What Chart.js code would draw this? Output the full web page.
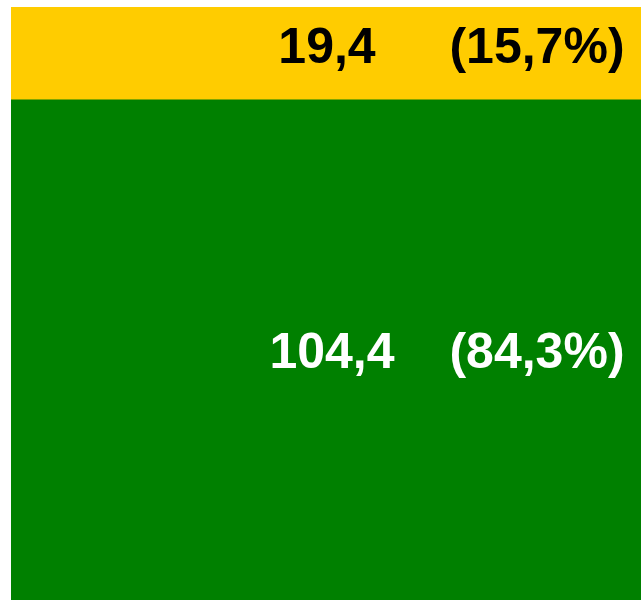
<!DOCTYPE html>
<html>
<head>
<meta charset="utf-8">
<script src="https://cdn.jsdelivr.net/npm/chart.js@4"></script>
<style>
  html, body { margin: 0; padding: 0; background: #fff; overflow: hidden; }
  #wrap { position: relative; width: 641px; height: 600px; }
</style>
</head>
<body>
<div id="wrap"><canvas id="shareChart"></canvas></div>
<script>
// ─── Data ──────────────────────────
const categories = [''];
const lowerValues = [104.4];   // green segment
const upperValues = [19.4];    // yellow segment
const totalValue = 123.8;

const fmt = v => v.toLocaleString('de-DE', { minimumFractionDigits: 1, maximumFractionDigits: 1 });

// draws "value   (pct%)" inside each segment
const segmentLabels = {
    id: 'segmentLabels',
    afterDatasetsDraw(chart) {
        const ctx = chart.ctx;
        ctx.save();
        ctx.font = 'bold 50px "Liberation Sans", Arial, sans-serif';
        ctx.textAlign = 'center';
        ctx.textBaseline = 'middle';
        chart.data.datasets.forEach((ds, i) => {
            const meta = chart.getDatasetMeta(i);
            meta.data.forEach((bar, j) => {
                const v = ds.data[j];
                const pct = v / totalValue * 100;
                const cy = (bar.y + bar.base) / 2 + ds.labelShift;
                ctx.fillStyle = ds.labelColor;
                ctx.fillText(fmt(v), bar.x + ds.valueShift, cy);
                ctx.fillText('(' + fmt(pct) + '%)', bar.x + 211, cy);
            });
        });
        ctx.restore();
    }
};

new Chart(document.getElementById('shareChart'), {
    type: 'bar',
    data: {
        labels: categories,
        datasets: [
            {
                data: lowerValues,
                backgroundColor: '#008000',
                labelColor: '#ffffff',
                labelShift: 4,
                valueShift: 6,
                borderWidth: 0
            },
            {
                data: upperValues,
                backgroundColor: '#ffcc00',
                labelColor: '#000000',
                labelShift: -4,
                valueShift: 1,
                borderWidth: 0
            }
        ]
    },
    options: {
        responsive: true,
        maintainAspectRatio: false,
        animation: false,
        layout: { padding: { left: 11, top: 7, right: 0, bottom: 0 } },
        plugins: { legend: { display: false }, tooltip: { enabled: false } },
        datasets: { bar: { barPercentage: 1, categoryPercentage: 1 } },
        scales: {
            x: { stacked: true, display: false },
            y: { stacked: true, display: false, min: 0, max: totalValue }
        }
    },
    plugins: [segmentLabels]
});
</script>
</body>
</html>
